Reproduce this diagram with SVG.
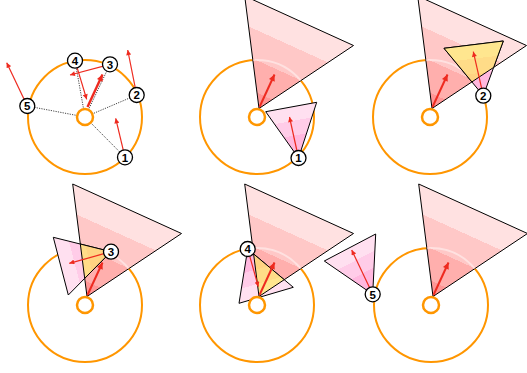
<svg xmlns="http://www.w3.org/2000/svg" xmlns:xlink="http://www.w3.org/1999/xlink" width="527" height="373" viewBox="0 0 527 373">
<style>
.big{fill:none;stroke:#ff9600;stroke-width:2}
.small{fill:#fff;stroke:#ff9600;stroke-width:2.5}
.tri{stroke:#000;stroke-width:1;stroke-linejoin:miter}
.outline{fill:none;stroke:#000;stroke-width:1}
.arc{fill:none;stroke:#fff;stroke-opacity:0.45;stroke-width:2}
.vel{fill:none;stroke:#ee2a1f;stroke-width:1.2;marker-end:url(#ah)}
.ctr{fill:none;stroke:#ee2a1f;stroke-width:2;marker-end:url(#ahb)}
.dot{fill:none;stroke:#444;stroke-width:1;stroke-dasharray:1.2 1.2}
.node circle{fill:#fff;stroke:#000;stroke-width:1.3}
.node text{font-family:"Liberation Sans",Arial,sans-serif;font-weight:bold;font-size:11.5px;text-anchor:middle;fill:#000}
</style>
<defs>
<marker id="ah" viewBox="0 0 10 10" refX="10" refY="5" markerWidth="6.5" markerHeight="5" markerUnits="userSpaceOnUse" orient="auto"><path d="M0,0 L10,5 L0,10 Z" fill="#ee2a1f"/></marker>
<marker id="ahb" viewBox="0 0 10 10" refX="10" refY="5" markerWidth="7.5" markerHeight="6.5" markerUnits="userSpaceOnUse" orient="auto"><path d="M0,0 L10,5 L0,10 Z" fill="#ee2a1f"/></marker>
<linearGradient id="gBig" gradientUnits="userSpaceOnUse" x1="2" y1="-8.5" x2="42" y2="-96.3">
<stop offset="0" stop-color="#ff9696"/><stop offset="0.14" stop-color="#ff9696"/>
<stop offset="0.14" stop-color="#ffafad"/><stop offset="0.445" stop-color="#ffafad"/>
<stop offset="0.445" stop-color="#ffc8c7"/><stop offset="0.73" stop-color="#ffc8c7"/>
<stop offset="0.73" stop-color="#ffe1e1"/><stop offset="1" stop-color="#ffe1e1"/>
</linearGradient>
<linearGradient id="pinkStops">
<stop offset="0" stop-color="#ffa2d6"/><stop offset="0.14" stop-color="#ffa2d6"/>
<stop offset="0.14" stop-color="#ffb8df"/><stop offset="0.445" stop-color="#ffb8df"/>
<stop offset="0.445" stop-color="#ffcce8"/><stop offset="0.73" stop-color="#ffcce8"/>
<stop offset="0.73" stop-color="#ffe0f0"/><stop offset="1" stop-color="#ffe0f0"/>
</linearGradient>
<linearGradient id="yelStops">
<stop offset="0" stop-color="#ffcd7c"/><stop offset="0.14" stop-color="#ffcd7c"/>
<stop offset="0.14" stop-color="#ffd482"/><stop offset="0.445" stop-color="#ffd482"/>
<stop offset="0.445" stop-color="#ffdc88"/><stop offset="0.73" stop-color="#ffdc88"/>
<stop offset="0.73" stop-color="#ffe68f"/><stop offset="1" stop-color="#ffe68f"/>
</linearGradient>
<linearGradient id="p1" href="#pinkStops" xlink:href="#pinkStops" gradientUnits="userSpaceOnUse" x1="298.5" y1="158" x2="289.2" y2="107.4"/>
<linearGradient id="p2" href="#pinkStops" xlink:href="#pinkStops" gradientUnits="userSpaceOnUse" x1="483.3" y1="95.7" x2="476.9" y2="44.2"/>
<linearGradient id="y2" href="#yelStops" xlink:href="#yelStops" gradientUnits="userSpaceOnUse" x1="483.3" y1="95.7" x2="476.9" y2="44.2"/>
<linearGradient id="p3" href="#pinkStops" xlink:href="#pinkStops" gradientUnits="userSpaceOnUse" x1="111" y1="251.7" x2="60.5" y2="264.9"/>
<linearGradient id="y3" href="#yelStops" xlink:href="#yelStops" gradientUnits="userSpaceOnUse" x1="111" y1="251.7" x2="60.5" y2="264.9"/>
<linearGradient id="p4" href="#pinkStops" xlink:href="#pinkStops" gradientUnits="userSpaceOnUse" x1="247.7" y1="249" x2="261.7" y2="296.6"/>
<linearGradient id="y4" href="#yelStops" xlink:href="#yelStops" gradientUnits="userSpaceOnUse" x1="247.7" y1="249" x2="261.7" y2="296.6"/>
<linearGradient id="p5" href="#pinkStops" xlink:href="#pinkStops" gradientUnits="userSpaceOnUse" x1="372.7" y1="294.3" x2="348.5" y2="248.3"/>
<path id="bigTri" class="tri" d="M2,-8.5 L-12.3,-121 L96.5,-71.5 Z" fill="url(#gBig)"/>
<clipPath id="cB2"><polygon points="259,108.5 244.7,-4 353.5,45.5"/></clipPath>
<clipPath id="cB3"><polygon points="432,108.5 417.7,-4 526.5,45.5"/></clipPath>
<clipPath id="cB4"><polygon points="87,296.5 72.7,184 181.5,233.5"/></clipPath>
<clipPath id="cB5"><polygon points="259,296.5 244.7,184 353.5,233.5"/></clipPath>
<clipPath id="cB6"><polygon points="433,296.5 418.7,184 527.5,233.5"/></clipPath>
<clipPath id="cF2"><polygon points="483.3,95.7 444,48.3 503.3,41"/></clipPath>
<clipPath id="cF3"><polygon points="111,251.7 53.3,237.3 68.3,295"/></clipPath>
<clipPath id="cF4"><polygon points="247.7,249 239,303.3 293.3,287.3"/></clipPath>
</defs>

<!-- Panel 1 -->
<g id="panel1">
<g id="p1-links">
<line class="dot" x1="85" y1="117" x2="125" y2="157.3"/>
<line class="dot" x1="85" y1="117" x2="136.7" y2="95"/>
<line class="dot" x1="85" y1="117" x2="110" y2="64.3"/>
<line class="dot" x1="85" y1="117" x2="75" y2="60.7"/>
<line class="dot" x1="85" y1="117" x2="27.3" y2="106"/>
</g>
<circle class="big" cx="85" cy="117" r="57"/>
<circle class="small" cx="85" cy="117" r="8"/>
<g id="p1-arrows">
<line class="ctr" x1="87.5" y1="107" x2="102.5" y2="74.5" style="stroke-width:2.4"/>
<line class="vel" x1="125" y1="157.3" x2="115.7" y2="118.3"/>
<line class="vel" x1="136.7" y1="95" x2="127.7" y2="50"/>
<line class="vel" x1="110" y1="64.3" x2="70" y2="75"/>
<line class="vel" x1="75" y1="60.7" x2="86.7" y2="99.3"/>
<line class="vel" x1="27.3" y1="106" x2="6.7" y2="62.7"/>
</g>
<g id="p1-n1" class="node"><circle cx="125" cy="157.3" r="7.5"/><text x="125" y="161.5">1</text></g>
<g id="p1-n2" class="node"><circle cx="136.7" cy="95" r="7.5"/><text x="136.7" y="99.2">2</text></g>
<g id="p1-n3" class="node"><circle cx="110" cy="64.3" r="7.5"/><text x="110" y="68.5">3</text></g>
<g id="p1-n4" class="node"><circle cx="75" cy="60.7" r="7.5"/><text x="75" y="64.9">4</text></g>
<g id="p1-n5" class="node"><circle cx="27.3" cy="106" r="7.5"/><text x="27.3" y="110.2">5</text></g>
</g>

<!-- Panel 2 -->
<g id="panel2">
<circle class="big" cx="257" cy="117" r="57"/>
<use href="#bigTri" xlink:href="#bigTri" x="257" y="117"/>
<circle class="arc" cx="257" cy="117" r="57" clip-path="url(#cB2)"/>
<polygon class="tri" points="298.5,158 265.7,111.7 316.7,102.3" fill="url(#p1)"/>
<circle class="small" cx="257" cy="117" r="8"/>
<line class="ctr" x1="259.5" y1="107" x2="274.5" y2="74.5"/>
<line class="vel" x1="298.5" y1="158" x2="289.5" y2="117"/>
<g id="p2-n1" class="node"><circle cx="298.5" cy="158" r="7.5"/><text x="298.5" y="162.2">1</text></g>
</g>

<!-- Panel 3 -->
<g id="panel3">
<circle class="big" cx="430" cy="117" r="57"/>
<use href="#bigTri" xlink:href="#bigTri" x="430" y="117"/>
<circle class="arc" cx="430" cy="117" r="57" clip-path="url(#cB3)"/>
<polygon class="tri" points="483.3,95.7 444,48.3 503.3,41" fill="url(#p2)"/>
<polygon class="tri" points="483.3,95.7 444,48.3 503.3,41" fill="url(#y2)" clip-path="url(#cB3)"/>
<polygon class="outline" points="432,108.5 417.7,-4 526.5,45.5" clip-path="url(#cF2)"/>
<circle class="small" cx="430" cy="117" r="8"/>
<line class="ctr" x1="432.5" y1="107" x2="447.5" y2="74.5"/>
<line class="vel" x1="483.3" y1="95.7" x2="473.3" y2="51.7"/>
<g id="p3-n2" class="node"><circle cx="483.3" cy="95.7" r="7.5"/><text x="483.3" y="99.9">2</text></g>
</g>

<!-- Panel 4 -->
<g id="panel4">
<circle class="big" cx="85" cy="305" r="57"/>
<use href="#bigTri" xlink:href="#bigTri" x="85" y="305"/>
<circle class="arc" cx="85" cy="305" r="57" clip-path="url(#cB4)"/>
<polygon class="tri" points="111,251.7 53.3,237.3 68.3,295" fill="url(#p3)"/>
<polygon class="tri" points="111,251.7 53.3,237.3 68.3,295" fill="url(#y3)" clip-path="url(#cB4)"/>
<polygon class="outline" points="87,296.5 72.7,184 181.5,233.5" clip-path="url(#cF3)"/>
<circle class="small" cx="85" cy="305" r="8"/>
<line class="ctr" x1="87.5" y1="295" x2="102.5" y2="262.5"/>
<line class="vel" x1="111" y1="251.7" x2="69.3" y2="263.3"/>
<g id="p4-n3" class="node"><circle cx="111" cy="251.7" r="7.5"/><text x="111" y="255.9">3</text></g>
</g>

<!-- Panel 5 -->
<g id="panel5">
<circle class="big" cx="257" cy="305" r="57"/>
<use href="#bigTri" xlink:href="#bigTri" x="257" y="305"/>
<circle class="arc" cx="257" cy="305" r="57" clip-path="url(#cB5)"/>
<polygon class="tri" points="247.7,249 239,303.3 293.3,287.3" fill="url(#p4)"/>
<polygon class="tri" points="247.7,249 239,303.3 293.3,287.3" fill="url(#y4)" clip-path="url(#cB5)"/>
<polygon class="outline" points="259,296.5 244.7,184 353.5,233.5" clip-path="url(#cF4)"/>
<circle class="small" cx="257" cy="305" r="8"/>
<line class="ctr" x1="259.5" y1="295" x2="274.5" y2="262.5"/>
<line class="vel" x1="247.7" y1="249" x2="258.3" y2="286.7"/>
<g id="p5-n4" class="node"><circle cx="247.7" cy="249" r="7.5"/><text x="247.7" y="253.2">4</text></g>
</g>

<!-- Panel 6 -->
<g id="panel6">
<circle class="big" cx="431" cy="305" r="57"/>
<use href="#bigTri" xlink:href="#bigTri" x="431" y="305"/>
<circle class="arc" cx="431" cy="305" r="57" clip-path="url(#cB6)"/>
<polygon class="tri" points="372.7,294.3 324.3,261 375.7,234" fill="url(#p5)"/>
<circle class="small" cx="431" cy="305" r="8"/>
<line class="ctr" x1="433.5" y1="295" x2="448.5" y2="262.5"/>
<line class="vel" x1="372.7" y1="294.3" x2="351.7" y2="250"/>
<g id="p6-n5" class="node"><circle cx="372.7" cy="294.3" r="7.5"/><text x="372.7" y="298.5">5</text></g>
</g>
</svg>
